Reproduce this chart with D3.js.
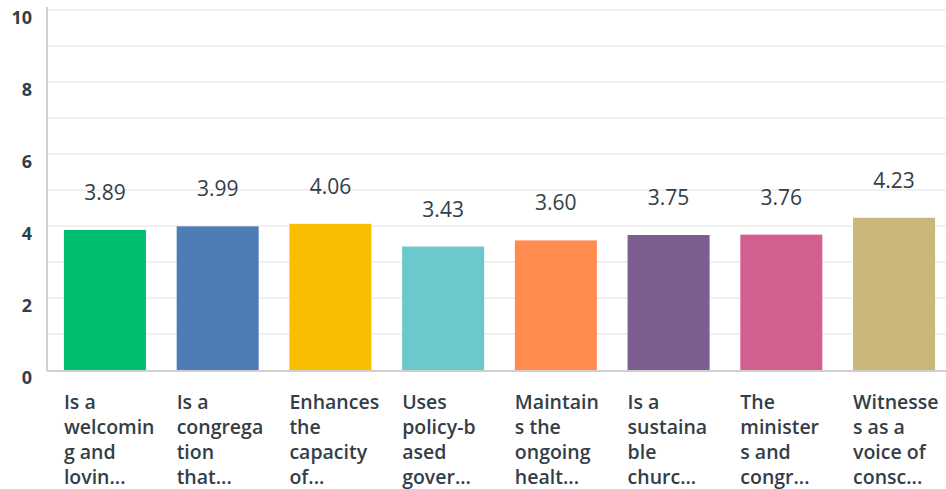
<!DOCTYPE html>
<html><head><meta charset="utf-8">
<script src="https://cdn.jsdelivr.net/npm/d3@7"></script>
<style>body{margin:0;background:#fff;}svg{display:block;font-family:"Open Sans",sans-serif;}</style>
</head><body>
<svg id="c" width="946" height="489"></svg>
<script>
const categories = [
  ["Is a","welcomin","g and","lovin..."],
  ["Is a","congrega","tion","that..."],
  ["Enhances","the","capacity","of..."],
  ["Uses","policy-b","ased","gover..."],
  ["Maintain","s the","ongoing","healt..."],
  ["Is a","sustaina","ble","churc..."],
  ["The","minister","s and","congr..."],
  ["Witnesse","s as a","voice of","consc..."]
];
const values = [3.89, 3.99, 4.06, 3.43, 3.60, 3.75, 3.76, 4.23];
const colors = ["#00bf6f","#507cb6","#f9be00","#6bc8cd","#ff8b4f","#7d5e90","#d25f90","#c9b77b"];
const yTicks = [0,2,4,6,8,10];
const gridTicks = [1,2,3,4,5,6,7,8,9,10];

const svg = d3.select("#c");
const x = d3.scaleBand().domain(d3.range(values.length)).range([48.6, 950.4]).paddingInner(0.2725).paddingOuter(0.136);
const y = d3.scaleLinear().domain([0,10]).range([370, 10]);

svg.append("g").selectAll("line").data(gridTicks).join("line")
  .attr("x1",48).attr("x2",946).attr("y1",d=>y(d)).attr("y2",d=>y(d))
  .attr("stroke","#ececec").attr("stroke-width",1.5);

svg.append("line").attr("x1",47).attr("x2",47).attr("y1",7).attr("y2",371).attr("stroke","#cfcfcf").attr("stroke-width",2);
svg.append("line").attr("x1",47).attr("x2",946).attr("y1",371).attr("y2",371).attr("stroke","#cfcfcf").attr("stroke-width",2);

svg.append("g").selectAll("text").data(yTicks).join("text")
  .attr("x",32).attr("y",d=>y(d)+14).attr("text-anchor","end")
  .attr("font-size",18).attr("font-weight",700).attr("fill","#333e48").text(d=>d);

svg.append("g").selectAll("rect").data(values).join("rect")
  .attr("x",(d,i)=>x(i)).attr("width",x.bandwidth())
  .attr("y",d=>y(d)).attr("height",d=>y(0)-y(d))
  .attr("fill",(d,i)=>colors[i]);

svg.append("g").selectAll("text").data(values).join("text")
  .attr("x",(d,i)=>x(i)+x.bandwidth()/2).attr("y",d=>y(d)-30)
  .attr("text-anchor","middle").attr("font-size",21).attr("font-weight",500).attr("fill","#333e48")
  .text(d=>d.toFixed(2));

const lab = svg.append("g").selectAll("text").data(categories).join("text")
  .attr("font-size",19.5).attr("font-weight",600).attr("fill","#333e48");
lab.each(function(lines,i){
  const t = d3.select(this);
  lines.forEach((l,j)=>{
    t.append("tspan").attr("x",x(i)).attr("y",409+j*25).text(l);
  });
});
</script>
</body></html>
